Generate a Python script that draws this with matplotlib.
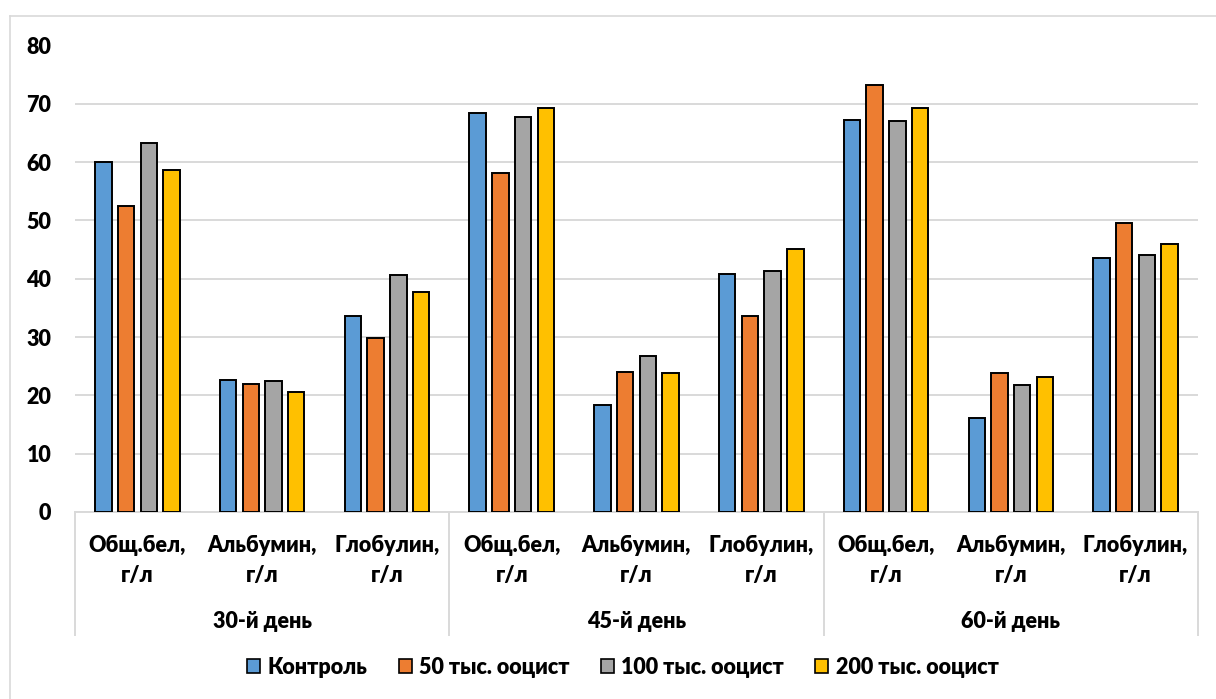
import matplotlib
matplotlib.use("Agg")
import matplotlib.pyplot as plt
from matplotlib.patches import Patch
from matplotlib.lines import Line2D
import numpy as np

plt.rcParams['font.family'] = ['Lato', 'DejaVu Sans']
FW = 'heavy'
FS = 15.5

# Data
periods = ["30-й день", "45-й день", "60-й день"]
indicators = ["Общ.бел,", "Альбумин,", "Глобулин,"]
unit = "г/л"
series_names = ["Контроль", "50 тыс. ооцист", "100 тыс. ооцист", "200 тыс. ооцист"]
control = [60.0, 22.7, 33.6, 68.5, 18.3, 40.9, 67.2, 16.1, 43.5]
oocyst_50 = [52.4, 21.9, 29.9, 58.2, 24.0, 33.6, 73.2, 23.8, 49.6]
oocyst_100 = [63.2, 22.5, 40.7, 67.7, 26.8, 41.4, 67.0, 21.7, 44.0]
oocyst_200 = [58.6, 20.6, 37.8, 69.2, 23.8, 45.1, 69.2, 23.1, 45.9]
colors = ["#5B9BD5", "#ED7D31", "#A5A5A5", "#FFC000"]
yticks = [0, 10, 20, 30, 40, 50, 60, 70, 80]

W, H = 1216, 699
fig = plt.figure(figsize=(W / 100, H / 100), dpi=100)
ax = fig.add_axes([75 / W, (H - 512) / H, (1198 - 75) / W, (512 - 45.5) / H])

grid_c = "#D9D9D9"
n_cat = len(periods) * len(indicators)
x = np.arange(n_cat)
step = 0.182
width = 0.132
all_series = [control, oocyst_50, oocyst_100, oocyst_200]
for i, (vals, c) in enumerate(zip(all_series, colors)):
    ax.bar(x + (i - 1.5) * step, vals, width=width, color=c,
           edgecolor="black", linewidth=1.4, zorder=3)

ax.set_xlim(-0.5, n_cat - 0.5)
ax.set_ylim(0, 80)
ax.set_yticks(yticks)
ax.set_yticklabels([str(v) for v in yticks], fontsize=FS, fontweight=FW)
ax.tick_params(axis='y', length=0, pad=17)
ax.set_xticks([])
ax.yaxis.grid(True, color=grid_c, linewidth=1.4, zorder=0)
ax.set_axisbelow(True)
for s in ["top", "right", "left"]:
    ax.spines[s].set_visible(False)
ax.spines["bottom"].set_color(grid_c)
ax.spines["bottom"].set_linewidth(1.4)

# Multi-level category axis
axh = 512 - 45.5
def ypos(py):
    return -(py - 512) / axh

tr = ax.get_xaxis_transform()
for k in range(n_cat):
    ax.text(k, ypos(545.5), indicators[k % 3], transform=tr, ha='center', va='center',
            fontsize=FS, fontweight=FW)
    ax.text(k, ypos(575.5), unit, transform=tr, ha='center', va='center',
            fontsize=FS, fontweight=FW)
for g, p in enumerate(periods):
    ax.text(g * 3 + 1, ypos(621), p, transform=tr, ha='center', va='center',
            fontsize=FS, fontweight=FW)
for xs in [-0.5, 2.5, 5.5, 8.5]:
    ax.add_line(Line2D([xs, xs], [0, ypos(635)], transform=tr, color=grid_c,
                       linewidth=1.4, clip_on=False))

# Outer chart border
fig.add_artist(Line2D([10 / W, 10 / W], [0, 1 - 16 / H], transform=fig.transFigure,
                      color=grid_c, linewidth=1.2))
fig.add_artist(Line2D([10 / W, 1], [1 - 16 / H, 1 - 16 / H], transform=fig.transFigure,
                      color=grid_c, linewidth=1.2))

handles = [Patch(facecolor=c, edgecolor="black", linewidth=1.2) for c in colors]
fig.legend(handles, series_names, loc='center', bbox_to_anchor=(623 / W, 1 - 667 / H),
           ncol=4, frameon=False, prop={'size': FS, 'weight': FW},
           handlelength=0.6, handleheight=0.6, handletextpad=0.35, columnspacing=1.45)

fig.savefig("out.png", dpi=100)
